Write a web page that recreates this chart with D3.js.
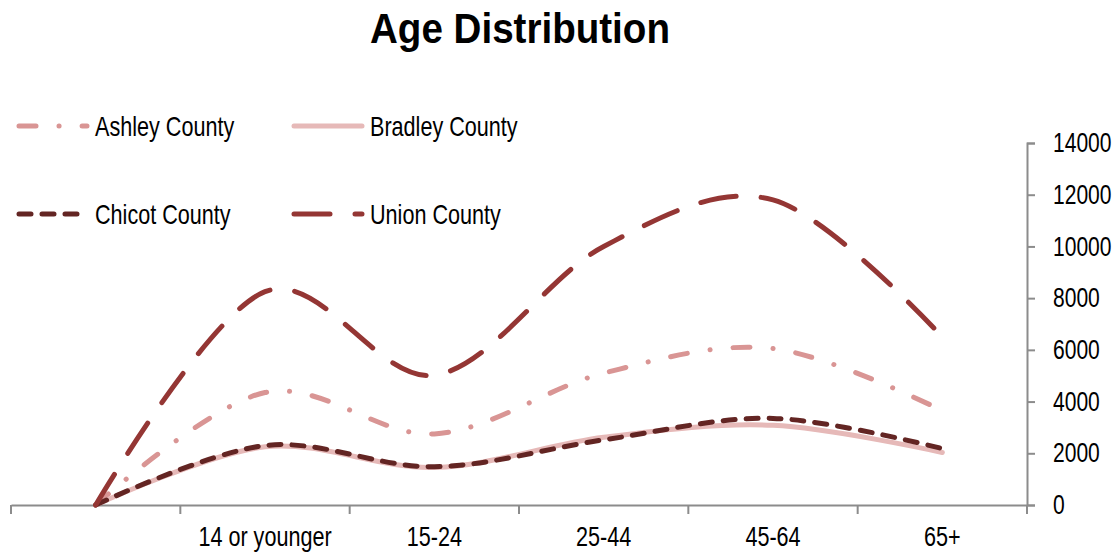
<!DOCTYPE html>
<html>
<head>
<meta charset="utf-8">
<script src="https://cdn.jsdelivr.net/npm/d3@7"></script>
<style>
  body { margin: 0; background: #fff; }
  svg text { font-family: "Liberation Sans", Arial, sans-serif; fill: #000; }
</style>
</head>
<body>
<svg id="chart" width="1119" height="555"></svg>
<script>
// categories (first one is an empty starting slot at zero)
const categories = ["", "14 or younger", "15-24", "25-44", "45-64", "65+"];

const ashley  = [0, 4350, 2750, 5100, 6050, 3650];
const bradley = [0, 2250, 1450, 2620, 3080, 2030];
const chicot  = [0, 2300, 1480, 2520, 3350, 2180];
const union   = [0, 8250, 5020, 10000, 11800, 6500];

const yTicks = [0, 2000, 4000, 6000, 8000, 10000, 12000, 14000];

const series = [
  { name: "Ashley County",  values: ashley,  color: "#d99594", dash: "17,23,0.1,23" },
  { name: "Bradley County", values: bradley, color: "#e6b9b8", dash: null },
  { name: "Chicot County",  values: chicot,  color: "#632523", dash: "12,11" },
  { name: "Union County",   values: union,   color: "#943634", dash: "36,25" }
];

const svg = d3.select("#chart");
const plot = { left: 11, right: 1027, top: 143, bottom: 505 };

// no narrow font installed, so squeeze text horizontally around its anchor
function narrow(sel, k) {
  sel.each(function () {
    const t = d3.select(this);
    const ax = +t.attr("x") || 0;
    t.attr("transform", `translate(${ax * (1 - k)},0) scale(${k},1)`);
  });
}

const x = d3.scaleBand().domain(categories).range([plot.left, plot.right]).padding(0);
const y = d3.scaleLinear().domain([0, 14000]).range([plot.bottom, plot.top]);

// title
const title = svg.append("text")
  .attr("x", 520).attr("y", 43)
  .attr("text-anchor", "middle")
  .style("font-size", "42px").style("font-weight", "bold")
  .text("Age Distribution");
narrow(title, 300 / title.node().getComputedTextLength());

// x axis: labels at band centres, ticks at band edges
const xAxis = svg.append("g").attr("transform", `translate(0,${plot.bottom})`)
  .call(d3.axisBottom(x).tickSize(0).tickPadding(22));
xAxis.select(".domain").attr("stroke", "#8c8c8c").attr("stroke-width", 2);
xAxis.selectAll("text").style("font-size", "27px").style("font-family", null).call(narrow, 0.8);

const edges = categories.map(c => x(c)).concat([plot.right]);
svg.append("g").selectAll("line").data(edges).join("line")
  .attr("x1", d => d).attr("x2", d => d)
  .attr("y1", plot.bottom).attr("y2", plot.bottom + 9)
  .attr("stroke", "#8c8c8c").attr("stroke-width", 2);

// y axis on the right
const yAxis = svg.append("g").attr("transform", `translate(${plot.right},0)`)
  .call(d3.axisRight(y).tickValues(yTicks).tickSize(8).tickPadding(18).tickFormat(d3.format("d")));
yAxis.select(".domain").attr("stroke", "#8c8c8c").attr("stroke-width", 2);
yAxis.selectAll(".tick line").attr("stroke", "#8c8c8c").attr("stroke-width", 2);
yAxis.selectAll("text").style("font-size", "27px").style("font-family", null).call(narrow, 0.78);

// lines
const line = d3.line()
  .x((d, i) => x(categories[i]) + x.bandwidth() / 2)
  .y(d => y(d))
  .curve(d3.curveCardinal.tension(0));

svg.append("g").selectAll("path").data(series).join("path")
  .attr("d", d => line(d.values))
  .attr("fill", "none")
  .attr("stroke", d => d.color)
  .attr("stroke-width", 5)
  .attr("stroke-linecap", "round")
  .attr("stroke-dasharray", d => d.dash);

// legend
const legendPos = [[17, 126], [292, 126], [17, 214], [292, 214]];
const legend = svg.append("g").selectAll("g").data(series).join("g")
  .attr("transform", (d, i) => `translate(${legendPos[i][0]},${legendPos[i][1]})`);
legend.append("line")
  .attr("x1", 2).attr("x2", 70).attr("y1", 0).attr("y2", 0)
  .attr("stroke", d => d.color).attr("stroke-width", 5)
  .attr("stroke-linecap", "round")
  .attr("stroke-dasharray", d => d.dash);
legend.append("text")
  .attr("x", 78).attr("y", 10)
  .style("font-size", "27px")
  .text(d => d.name)
  .call(narrow, 0.8);
</script>
</body>
</html>
